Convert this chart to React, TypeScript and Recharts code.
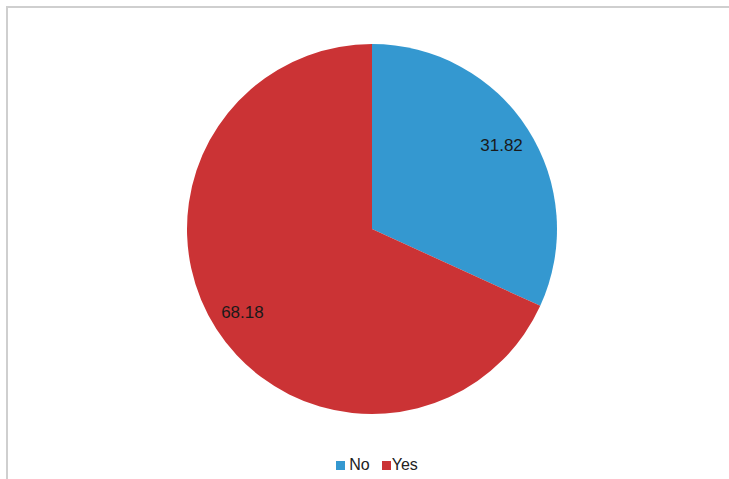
import React from "react";
import { PieChart, Pie, Cell, Legend } from "recharts";

const categories = ["No", "Yes"];
const values = [31.82, 68.18];
const colors = ["#3498D0", "#CB3335"];

const data = categories.map((name, i) => ({ name, value: values[i] }));

const RAD = Math.PI / 180;

const renderLabel = (props: any) => {
  const { cx, cy, midAngle, value } = props;
  const r = 154;
  const x = cx + r * Math.cos(-midAngle * RAD);
  const y = cy + r * Math.sin(-midAngle * RAD);
  return (
    <text
      x={x}
      y={y}
      textAnchor="middle"
      dominantBaseline="central"
      fill="#1a1a1a"
      fontSize={17}
      fontFamily="Liberation Sans, Arial, sans-serif"
    >
      {value.toFixed(2)}
    </text>
  );
};

const renderLegend = (props: any) => {
  const { payload } = props;
  return (
    <div
      style={{
        display: "flex",
        justifyContent: "center",
        alignItems: "center",
        fontFamily: "Liberation Sans, Arial, sans-serif",
        fontSize: 16,
        lineHeight: "18px",
        color: "#222",
        paddingLeft: 25,
      }}
    >
      {payload.map((entry: any, i: number) => (
        <div
          key={i}
          style={{ display: "flex", alignItems: "center", marginRight: i === 0 ? 12 : 0 }}
        >
          <span
            style={{
              display: "inline-block",
              width: 9,
              height: 9,
              background: entry.color,
              marginRight: i === 0 ? 4 : 1,
            }}
          />
          <span>{entry.value}</span>
        </div>
      ))}
    </div>
  );
};

export default function App() {
  return (
    <div
      style={{
        position: "absolute",
        left: 0,
        top: 0,
        width: 729,
        height: 479,
        background: "#fff",
        overflow: "hidden",
      }}
    >
      <div
        style={{
          position: "absolute",
          left: 6,
          top: 6,
          width: 760,
          height: 520,
          borderTop: "2px solid #cfcfcf",
          borderLeft: "2px solid #cfcfcf",
        }}
      />
      <div style={{ position: "absolute", left: 0, top: 0 }}>
        <PieChart width={729} height={479} margin={{ top: 0, right: 0, bottom: 0, left: 0 }}>
          <Pie
            data={data}
            dataKey="value"
            nameKey="name"
            cx={372}
            cy={229}
            outerRadius={185}
            startAngle={90}
            endAngle={-270}
            stroke="none"
            label={renderLabel}
            labelLine={false}
            isAnimationActive={false}
          >
            {data.map((d, i) => (
              <Cell key={d.name} fill={colors[i]} />
            ))}
          </Pie>
          <Legend
            content={renderLegend}
            verticalAlign="bottom"
            wrapperStyle={{ position: "absolute", top: 456, left: 0, width: 729 }}
          />
        </PieChart>
      </div>
    </div>
  );
}
